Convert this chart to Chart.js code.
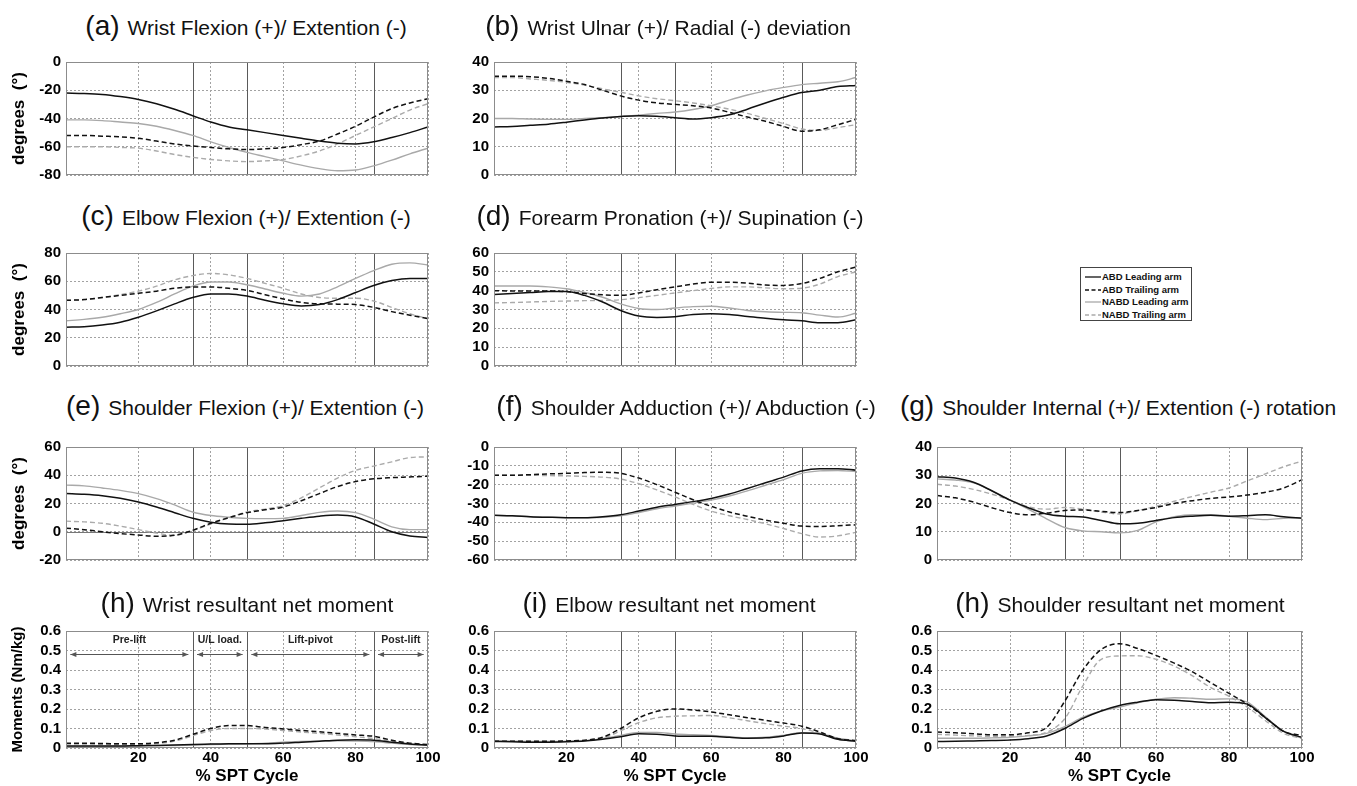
<!DOCTYPE html>
<html>
<head>
<meta charset="utf-8">
<script src="https://cdn.jsdelivr.net/npm/chart.js@4.4.0/dist/chart.umd.min.js"></script>
<style>
  body { margin: 0; width: 1357px; height: 786px; overflow: hidden; background: #fff; position: relative;
         font-family: "Liberation Sans", Arial, Helvetica, sans-serif; }
  .box { position: absolute; }
  .ttl { position: absolute; white-space: nowrap; transform: translate(-50%, -50%); color: #111;
         font-size: 21px; line-height: 1; }
  .ttl span { font-size: 28px; margin-right: 8px; }
  .legend { position: absolute; left: 1080px; top: 267px; width: 110px; height: 52px;
            border: 1px solid #444; background: #fff; }
  .legend div { position: absolute; left: 4px; height: 12px; font: bold 9.5px "Liberation Sans", Arial, sans-serif;
                line-height: 12px; white-space: nowrap; color: #111; }
  .legend svg { vertical-align: middle; margin-right: 1px; }
</style>
</head>
<body>
<script>
const cycle = [0, 5, 10, 15, 20, 25, 30, 35, 40, 45, 50, 55, 60, 65, 70, 75, 80, 85, 90, 95, 100];
const seriesNames = ["ABD Leading arm", "ABD Trailing arm", "NABD Leading arm", "NABD Trailing arm"];
const phaseBounds = [0, 35, 50, 85, 100];
const phaseNames = ["Pre-lift", "U/L load.", "Lift-pivot", "Post-lift"];

// (a) wrist flexion / extension
const wfAbdLead = [-22, -22.3, -23, -24.5, -26.5, -29.5, -33.5, -38, -42.5, -46, -48, -50, -52, -54, -56, -57.5, -58, -56.5, -53.5, -50, -46];
const wfAbdTrail = [-52, -52, -52.5, -53, -54, -56, -58, -59.5, -60.5, -61.5, -62, -61.5, -60.5, -58.5, -56, -51, -45.5, -39, -33, -29, -26];
const wfNabdLead = [-41, -41, -41.5, -42.5, -43.5, -45.5, -48.5, -52, -56.5, -60.5, -64, -67, -70, -73, -75.5, -77, -76.5, -73.5, -69.5, -65, -61];
const wfNabdTrail = [-60, -60, -60, -60.5, -61, -63, -65.5, -67.5, -69, -70, -70.5, -70, -69, -66.5, -63, -58, -52, -46, -40, -34, -29.5];

// (b) wrist ulnar / radial deviation
const wuAbdLead = [17, 17.2, 17.6, 18, 18.7, 19.5, 20.2, 20.7, 21, 20.8, 20.3, 19.8, 20.3, 21.3, 23.3, 25.5, 27.5, 29.2, 30, 31.3, 31.7];
const wuAbdTrail = [35, 35, 34.8, 34.2, 33.2, 32, 30, 28, 26.5, 25.5, 25, 24.5, 23.7, 22.2, 20.5, 19, 17.2, 15.5, 16, 17.8, 19.7];
const wuNabdLead = [20, 20, 19.8, 19.7, 19.7, 20, 20.3, 20.7, 21.2, 21.8, 22.3, 23.2, 24.5, 26.5, 28.3, 29.8, 31, 32, 32.5, 33, 34.5];
const wuNabdTrail = [34.5, 34.5, 34, 33.5, 32.8, 31.8, 30.5, 29.3, 28, 27, 26.3, 25.5, 24.5, 23.3, 21.8, 20, 18.2, 16.3, 15.8, 16.8, 17.8];

// (c) elbow flexion / extension
const efAbdLead = [27.5, 27.8, 29, 31, 34.5, 39, 44, 48.5, 51, 51, 49.5, 46.5, 44, 42.5, 43.5, 47, 52, 57, 60.5, 62, 62];
const efAbdTrail = [46.5, 47, 48.5, 50, 51.5, 53, 55, 56, 56, 55, 53.5, 50.5, 47.5, 45, 44, 43.8, 43.5, 41.5, 38.5, 36, 33.5];
const efNabdLead = [32, 33, 34.5, 37, 40, 45, 51, 56.5, 59.5, 59.5, 57.5, 54.5, 51.5, 49.5, 51, 56, 62, 67.5, 72, 73, 71.5];
const efNabdTrail = [46.5, 47, 48.5, 50.5, 53, 56.5, 61, 64, 65.5, 64.5, 62, 58.5, 55, 51, 48.5, 48, 48, 46, 41.5, 37, 33.5];

// (d) forearm pronation / supination
const fpAbdLead = [38, 38.5, 39, 39.5, 39.5, 37.5, 34, 29.5, 26.5, 25.8, 26.2, 27.3, 27.8, 27.3, 26.3, 25.3, 24.5, 24, 23, 23, 24.5];
const fpAbdTrail = [40, 39.8, 39.8, 39.8, 39.5, 38.5, 37.8, 37.5, 38.8, 40.5, 42, 43.5, 44.5, 44.5, 44, 43, 42.8, 43.8, 46.5, 50, 52.5];
const fpNabdLead = [42.5, 42.5, 42.5, 42, 41, 39, 36.5, 33, 30.5, 30, 30.8, 31.5, 31.7, 30.8, 29.5, 28.8, 28.5, 28.3, 27, 26, 28];
const fpNabdTrail = [33.5, 33.7, 34, 34.3, 34.5, 34.7, 34.8, 35.2, 36.3, 37.5, 38.8, 40, 41.2, 42, 42, 41.5, 41, 41.3, 43.5, 47.5, 50];

// (e) shoulder flexion / extension
const sfAbdLead = [27, 26.5, 25.5, 23.7, 21, 17.5, 13.5, 9.5, 6.8, 5.5, 5.3, 6.3, 7.8, 9.5, 11, 11.8, 10.5, 5.5, 0, -3, -4];
const sfAbdTrail = [2.5, 1.5, 0, -1.3, -2.3, -3.2, -2.5, 1, 6, 10, 13.5, 15.5, 17.5, 22, 27, 32, 35.5, 37.5, 38.3, 38.8, 39.3];
const sfNabdLead = [33, 32.5, 31, 29.3, 27, 23.5, 19, 14, 11.5, 10.3, 9.5, 9.3, 9.5, 11.5, 13.7, 14.7, 13.5, 9, 3.5, 1.5, 1.5];
const sfNabdTrail = [7.5, 7, 6, 4, 1.5, -1, -2.5, 1, 5.5, 10, 14, 16, 18.5, 24, 31, 38, 43.5, 46.5, 49.5, 52.5, 53];

// (f) shoulder adduction / abduction
const saAbdLead = [-36.3, -36.5, -37, -37.3, -37.5, -37.5, -37, -36, -34, -32, -30.5, -29, -27.3, -25, -22, -19, -16, -12.7, -11.5, -11.5, -12.3];
const saAbdTrail = [-15, -15, -14.7, -14.3, -14, -13.6, -13.4, -14, -16.5, -20, -24, -28, -31.5, -34.5, -36.8, -38.8, -40.5, -42, -42.2, -41.8, -41.3];
const saNabdLead = [-36.3, -36.5, -37, -37.3, -37.5, -37.5, -37.3, -36.5, -34.8, -32.8, -31.3, -29.8, -28.2, -26, -23.3, -20.3, -17.3, -14, -12.7, -12.5, -13];
const saNabdTrail = [-15, -15, -15, -15.2, -15.3, -15.6, -16, -17, -19.5, -22.8, -26.5, -30.5, -34, -36.5, -38.5, -40.8, -43.3, -46, -47.8, -47.2, -45.3];

// (g) shoulder internal / external rotation
const siAbdLead = [29.5, 29, 27.5, 24.5, 21.2, 18.5, 16.3, 15.5, 15.2, 14, 12.8, 13, 14, 15, 15.5, 15.8, 15.5, 15.7, 16, 15.3, 14.8];
const siAbdTrail = [22.8, 22, 20.5, 18.5, 16.8, 16, 16.6, 17.5, 17.7, 17.2, 16.8, 17.5, 18.6, 20, 21, 21.8, 22.3, 23, 24, 25.5, 28.4];
const siNabdLead = [28.7, 28.3, 27.3, 24.5, 21.3, 18, 14.6, 11.5, 10.3, 10, 9.6, 10.5, 13.5, 15.3, 16, 16, 15.5, 14.8, 14.3, 14.8, 15];
const siNabdTrail = [26.8, 26.2, 25, 23.3, 21.2, 18.8, 18, 18.6, 18, 17, 16.3, 17.5, 19, 20.8, 22.5, 24, 25.5, 28, 30.5, 33, 35];

// (h) wrist moment
const wmAbdLead = [0.01, 0.01, 0.01, 0.01, 0.012, 0.013, 0.015, 0.018, 0.02, 0.022, 0.022, 0.022, 0.025, 0.03, 0.035, 0.04, 0.042, 0.04, 0.03, 0.02, 0.015];
const wmAbdTrail = [0.025, 0.025, 0.023, 0.022, 0.022, 0.027, 0.04, 0.07, 0.1, 0.115, 0.115, 0.105, 0.098, 0.09, 0.083, 0.075, 0.067, 0.06, 0.04, 0.025, 0.018];
const wmNabdLead = [0.008, 0.008, 0.008, 0.009, 0.01, 0.012, 0.013, 0.015, 0.018, 0.02, 0.022, 0.025, 0.03, 0.033, 0.035, 0.037, 0.036, 0.033, 0.025, 0.018, 0.014];
const wmNabdTrail = [0.02, 0.02, 0.019, 0.018, 0.018, 0.022, 0.035, 0.063, 0.09, 0.1, 0.1, 0.097, 0.09, 0.082, 0.075, 0.067, 0.058, 0.048, 0.035, 0.022, 0.015];

// (i) elbow moment
const emAbdLead = [0.033, 0.032, 0.03, 0.03, 0.032, 0.036, 0.045, 0.058, 0.073, 0.07, 0.062, 0.06, 0.06, 0.055, 0.05, 0.052, 0.062, 0.077, 0.072, 0.045, 0.035];
const emAbdTrail = [0.035, 0.035, 0.034, 0.034, 0.036, 0.04, 0.055, 0.1, 0.155, 0.188, 0.2, 0.195, 0.185, 0.17, 0.155, 0.142, 0.128, 0.112, 0.082, 0.048, 0.038];
const emNabdLead = [0.036, 0.035, 0.034, 0.034, 0.035, 0.038, 0.048, 0.065, 0.08, 0.08, 0.072, 0.068, 0.065, 0.058, 0.052, 0.055, 0.065, 0.078, 0.075, 0.05, 0.038];
const emNabdTrail = [0.035, 0.035, 0.034, 0.034, 0.035, 0.038, 0.05, 0.088, 0.13, 0.155, 0.163, 0.165, 0.167, 0.155, 0.14, 0.125, 0.112, 0.1, 0.076, 0.045, 0.035];

// (h) shoulder moment
const smAbdLead = [0.033, 0.034, 0.036, 0.038, 0.041, 0.048, 0.062, 0.1, 0.152, 0.19, 0.218, 0.235, 0.248, 0.245, 0.238, 0.232, 0.235, 0.225, 0.155, 0.085, 0.055];
const smAbdTrail = [0.082, 0.078, 0.073, 0.068, 0.068, 0.078, 0.105, 0.24, 0.4, 0.505, 0.535, 0.51, 0.475, 0.435, 0.39, 0.335, 0.28, 0.225, 0.155, 0.085, 0.065];
const smNabdLead = [0.05, 0.05, 0.05, 0.052, 0.055, 0.062, 0.075, 0.11, 0.158, 0.19, 0.21, 0.232, 0.25, 0.258, 0.255, 0.25, 0.252, 0.235, 0.16, 0.085, 0.05];
const smNabdTrail = [0.07, 0.066, 0.062, 0.06, 0.06, 0.065, 0.08, 0.15, 0.32, 0.455, 0.472, 0.473, 0.455, 0.42, 0.37, 0.31, 0.265, 0.21, 0.14, 0.075, 0.048];

// styles
const seriesColors = ["#111111", "#111111", "#a9a9a9", "#ababab"];
const seriesDash = [[], [5, 3], [], [5, 3]];
const seriesWidth = [1.5, 1.5, 1.4, 1.4];

// plot area geometry (page pixels)
const cols = [{ l: 66, r: 428 }, { l: 494, r: 856 }, { l: 937, r: 1302 }];
const rows = [{ t: 58, b: 179 }, { t: 249, b: 370 }, { t: 443, b: 564 }, { t: 627, b: 748 }];
const titleY = [26, 216, 406, 603];

const panels = [
  { tag: "(a)", title: "Wrist Flexion (+)/ Extention (-)", col: 0, row: 0, tx: 246, min: -80, max: 0, step: 20,
    values: [wfAbdLead, wfAbdTrail, wfNabdLead, wfNabdTrail] },
  { tag: "(b)", title: "Wrist Ulnar (+)/ Radial (-) deviation", col: 1, row: 0, tx: 668, min: 0, max: 40, step: 10,
    values: [wuAbdLead, wuAbdTrail, wuNabdLead, wuNabdTrail] },
  { tag: "(c)", title: "Elbow Flexion (+)/ Extention (-)", col: 0, row: 1, tx: 246, min: 0, max: 80, step: 20,
    values: [efAbdLead, efAbdTrail, efNabdLead, efNabdTrail] },
  { tag: "(d)", title: "Forearm Pronation (+)/ Supination (-)", col: 1, row: 1, tx: 670, min: 0, max: 60, step: 10,
    values: [fpAbdLead, fpAbdTrail, fpNabdLead, fpNabdTrail] },
  { tag: "(e)", title: "Shoulder Flexion (+)/ Extention (-)", col: 0, row: 2, tx: 245, min: -20, max: 60, step: 20, zero: true,
    values: [sfAbdLead, sfAbdTrail, sfNabdLead, sfNabdTrail] },
  { tag: "(f)", title: "Shoulder Adduction (+)/ Abduction (-)", col: 1, row: 2, tx: 686, min: -60, max: 0, step: 10,
    values: [saAbdLead, saAbdTrail, saNabdLead, saNabdTrail] },
  { tag: "(g)", title: "Shoulder Internal (+)/ Extention (-) rotation", col: 2, row: 2, tx: 1118, min: 0, max: 40, step: 10,
    values: [siAbdLead, siAbdTrail, siNabdLead, siNabdTrail] },
  { tag: "(h)", title: "Wrist resultant net moment", col: 0, row: 3, tx: 247, min: 0, max: 0.6, step: 0.1, phases: true,
    values: [wmAbdLead, wmAbdTrail, wmNabdLead, wmNabdTrail] },
  { tag: "(i)", title: "Elbow resultant net moment", col: 1, row: 3, tx: 669, min: 0, max: 0.6, step: 0.1,
    values: [emAbdLead, emAbdTrail, emNabdLead, emNabdTrail] },
  { tag: "(h)", title: "Shoulder resultant net moment", col: 2, row: 3, tx: 1120, min: 0, max: 0.6, step: 0.1,
    values: [smAbdLead, smAbdTrail, smNabdLead, smNabdTrail] },
];

const font = '"Liberation Sans", Arial, Helvetica, sans-serif';

function arrowHead(ctx, x, y, dir) {
  ctx.beginPath();
  ctx.moveTo(x, y);
  ctx.lineTo(x - dir * 6, y - 2.5);
  ctx.lineTo(x - dir * 6, y + 2.5);
  ctx.closePath();
  ctx.fill();
}

// frame, phase separators, zero line, phase labels
const decor = {
  id: "decor",
  beforeDatasetsDraw(chart, args, opts) {
    const { ctx, chartArea: a, scales: { x, y } } = chart;
    ctx.save();
    ctx.strokeStyle = "#5a5a5a";
    ctx.lineWidth = 1;
    phaseBounds.slice(1, -1).forEach(v => {
      const px = Math.round(x.getPixelForValue(v)) + 0.5;
      ctx.beginPath(); ctx.moveTo(px, a.top); ctx.lineTo(px, a.bottom); ctx.stroke();
    });
    if (opts.zero) {
      const py = Math.round(y.getPixelForValue(0)) + 0.5;
      ctx.strokeStyle = "#777";
      ctx.beginPath(); ctx.moveTo(a.left, py); ctx.lineTo(a.right, py); ctx.stroke();
    }
    if (opts.phases) {
      ctx.font = "bold 10.5px " + font;
      ctx.textAlign = "center";
      ctx.textBaseline = "middle";
      const ly = y.getPixelForValue(0.555);
      const ay = Math.round(y.getPixelForValue(0.48)) + 0.5;
      phaseNames.forEach((name, i) => {
        const x0 = phaseBounds[i], x1 = phaseBounds[i + 1];
        ctx.fillStyle = "#222";
        ctx.fillText(name, x.getPixelForValue((x0 + x1) / 2), ly);
        const p0 = x.getPixelForValue(x0 + 1.2), p1 = x.getPixelForValue(x1 - 1.2);
        ctx.strokeStyle = "#555";
        ctx.beginPath(); ctx.moveTo(p0, ay); ctx.lineTo(p1, ay); ctx.stroke();
        ctx.fillStyle = "#555";
        arrowHead(ctx, p0, ay, -1);
        arrowHead(ctx, p1, ay, 1);
      });
    }
    ctx.restore();
  },
  afterDatasetsDraw(chart) {
    const { ctx, chartArea: a } = chart;
    ctx.save();
    ctx.strokeStyle = "#8c8c8c";
    ctx.lineWidth = 1;
    ctx.strokeRect(a.left + 0.5, a.top + 0.5, a.right - a.left - 1, a.bottom - a.top - 1);
    ctx.restore();
  }
};

panels.forEach(p => {
  const col = cols[p.col], row = rows[p.row];
  const bottomRow = p.row === 3;
  const YW = p.col === 0 ? 66 : 50;
  const PT = 10, PR = 18, XH = bottomRow ? 39 : 10;
  const w = YW + (col.r - col.l) + PR;
  const h = PT + (row.b - row.t) + XH;

  const box = document.createElement("div");
  box.className = "box";
  box.style.left = (col.l - YW) + "px";
  box.style.top = (row.t - PT) + "px";
  const canvas = document.createElement("canvas");
  canvas.width = w; canvas.height = h;
  canvas.style.width = w + "px"; canvas.style.height = h + "px";
  box.appendChild(canvas);
  document.body.appendChild(box);

  const ttl = document.createElement("div");
  ttl.className = "ttl";
  ttl.style.left = p.tx + "px";
  ttl.style.top = titleY[p.row] + "px";
  const tag = document.createElement("span");
  tag.textContent = p.tag;
  ttl.appendChild(tag);
  ttl.appendChild(document.createTextNode(p.title));
  document.body.appendChild(ttl);

  let yTitle = "";
  if (p.col === 0) yTitle = bottomRow ? "Moments (Nm/kg)" : "degrees  (\u00B0)";

  new Chart(canvas, {
    type: "line",
    data: {
      datasets: seriesNames.map((name, i) => ({
        label: name,
        data: cycle.map((c, k) => ({ x: c, y: p.values[i][k] })),
        borderColor: seriesColors[i],
        borderDash: seriesDash[i],
        borderWidth: seriesWidth[i],
        pointRadius: 0,
        fill: false,
        cubicInterpolationMode: "monotone",
      })),
    },
    options: {
      responsive: false,
      animation: false,
      events: [],
      layout: { padding: { top: PT, right: PR, bottom: 0, left: 0 } },
      plugins: {
        legend: { display: false },
        tooltip: { enabled: false },
        decor: { zero: !!p.zero, phases: !!p.phases },
      },
      scales: {
        x: {
          type: "linear", min: 0, max: 100,
          ticks: { display: bottomRow, stepSize: 20, padding: 1, color: "#000", maxRotation: 0, autoSkip: false,
                   font: { family: font, size: 15, weight: "bold" },
                   callback: v => (v === 0 ? "" : v) },
          grid: { color: "#a2a2a2", lineWidth: 1, drawTicks: false },
          border: { display: false, dash: [2, 2] },
          title: { display: bottomRow, text: "% SPT Cycle", color: "#000", padding: { top: 0, bottom: 0 },
                   font: { family: font, size: 17, weight: "bold" } },
          afterFit: s => { s.height = XH; },
        },
        y: {
          min: p.min, max: p.max,
          ticks: { stepSize: p.step, padding: 5, color: "#000", autoSkip: false,
                   font: { family: font, size: 15, weight: "bold" } },
          grid: { color: "#a2a2a2", lineWidth: 1, drawTicks: false },
          border: { display: false, dash: [2, 2] },
          title: { display: yTitle !== "", text: yTitle, color: "#000", padding: { top: 9, bottom: 0 },
                   font: { family: font, size: bottomRow ? 15 : 17, weight: "bold" } },
          afterFit: s => { s.width = YW; },
        },
      },
    },
    plugins: [decor],
  });
});

// legend
const legend = document.createElement("div");
legend.className = "legend";
seriesNames.forEach((name, i) => {
  const row = document.createElement("div");
  row.style.top = (3 + i * 12.5) + "px";
  const dash = seriesDash[i].length ? 'stroke-dasharray="4 2.5"' : "";
  row.innerHTML = '<svg width="16" height="4"><line x1="0" y1="2" x2="16" y2="2" stroke="' + seriesColors[i] +
    '" stroke-width="1.3" ' + dash + '/></svg>';
  row.appendChild(document.createTextNode(name));
  legend.appendChild(row);
});
document.body.appendChild(legend);
</script>
</body>
</html>
